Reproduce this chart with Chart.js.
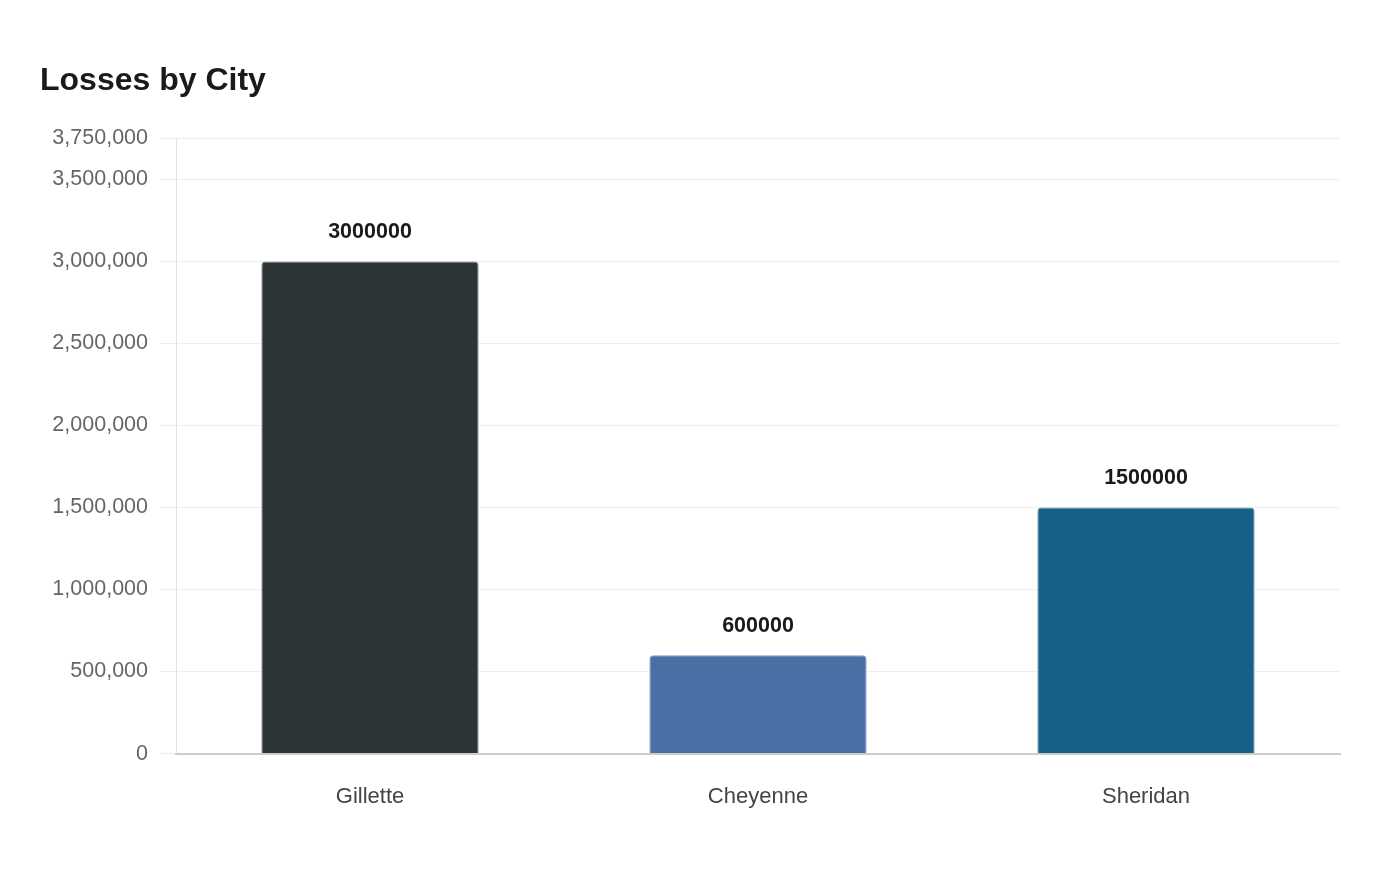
<!DOCTYPE html>
<html>
<head>
<meta charset="utf-8">
<title>Losses by City</title>
<script src="https://cdn.jsdelivr.net/npm/chart.js@4.4.1/dist/chart.umd.min.js"></script>
<style>
  html, body { margin: 0; padding: 0; background: #fff; }
  #wrap { width: 1400px; height: 880px; position: relative; }
</style>
</head>
<body>
<div id="wrap"><canvas id="lossChart"></canvas></div>
<script>
// chart data
const cities = ['Gillette', 'Cheyenne', 'Sheridan'];
const losses = [3000000, 600000, 1500000];
const yTicks = [0, 500000, 1000000, 1500000, 2000000, 2500000, 3000000, 3500000, 3750000];
const barColors = ['#2d3436', '#4a6fa5', '#166088'];
const barEdges = ['#7d8385', '#7f9cc4', '#5d90ad'];

const FONT = '"Liberation Sans", Arial, sans-serif';

// value labels above each bar
const valueLabels = {
    id: 'valueLabels',
    afterDatasetsDraw(chart) {
        const c = chart.ctx;
        const meta = chart.getDatasetMeta(0);
        c.save();
        c.font = 'bold 21.5px ' + FONT;
        c.fillStyle = '#1a1a1a';
        c.textAlign = 'center';
        c.textBaseline = 'middle';
        meta.data.forEach((bar, i) => {
            c.fillText(String(chart.data.datasets[0].data[i]), bar.x, bar.y - 29);
        });
        c.restore();
    }
};

new Chart(document.getElementById('lossChart').getContext('2d'), {
    type: 'bar',
    data: {
        labels: cities,
        datasets: [{
            label: 'Losses',
            data: losses,
            backgroundColor: barColors,
            borderColor: barEdges,
            borderWidth: 1,
            borderRadius: 4,
            barPercentage: 0.7,
            categoryPercentage: 0.8
        }]
    },
    options: {
        responsive: true,
        maintainAspectRatio: false,
        animation: false,
        layout: { padding: { left: 40, right: 60, top: 0, bottom: 48 } },
        plugins: {
            legend: { display: false },
            tooltip: { enabled: false },
            title: {
                display: true,
                text: 'Losses by City',
                align: 'start',
                color: '#1a1a1a',
                font: { family: FONT, size: 32, weight: 'bold' },
                padding: { top: 62, bottom: 38 }
            }
        },
        scales: {
            y: {
                min: 0,
                max: 3750000,
                ticks: {
                    color: '#666',
                    padding: 12,
                    font: { family: FONT, size: 21.5 },
                    callback: v => Number(v).toLocaleString('en-US')
                },
                afterBuildTicks: s => { s.ticks = yTicks.map(v => ({ value: v })); },
                grid: { color: '#eeeeee', tickLength: 16, tickColor: '#eeeeee' },
                border: { color: '#e2e2e2' },
                afterFit: s => { s.width = 136; }
            },
            x: {
                ticks: {
                    color: '#444',
                    padding: 22,
                    font: { family: FONT, size: 22 }
                },
                grid: { display: false },
                border: { color: '#cccccc', width: 2 }
            }
        }
    },
    plugins: [valueLabels]
});
</script>
</body>
</html>
